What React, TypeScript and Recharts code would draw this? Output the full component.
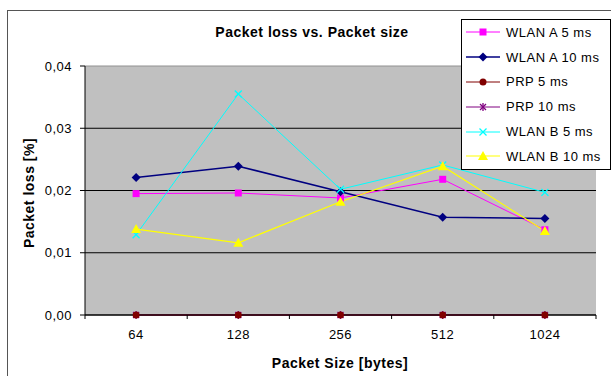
import React from "react";
import { LineChart, Line, XAxis, YAxis, CartesianGrid, Legend } from "recharts";

// packet sizes in bytes (x categories)
const SIZES = ["64", "128", "256", "512", "1024"];

// packet loss [%] per packet size
const WLAN_A_5 = [0.0195, 0.0196, 0.0188, 0.0218, 0.0137];
const WLAN_A_10 = [0.0221, 0.0239, 0.0198, 0.0157, 0.0155];
const PRP_5 = [0, 0, 0, 0, 0];
const PRP_10 = [0, 0, 0, 0, 0];
const WLAN_B_5 = [0.0129, 0.0355, 0.0202, 0.0241, 0.0197];
const WLAN_B_10 = [0.0138, 0.0116, 0.0182, 0.0239, 0.0135];

const Y_TICKS = [0, 0.01, 0.02, 0.03, 0.04];

type Shape = "square" | "diamond" | "circle" | "star" | "cross" | "triangle";

interface Series {
  key: string;
  name: string;
  values: number[];
  color: string;
  shape: Shape;
  width: number;
}

const SERIES: Series[] = [
  { key: "wlanA5", name: "WLAN A 5 ms", values: WLAN_A_5, color: "#FF00FF", shape: "square", width: 1 },
  { key: "wlanA10", name: "WLAN A 10 ms", values: WLAN_A_10, color: "#000080", shape: "diamond", width: 1.5 },
  { key: "prp5", name: "PRP 5 ms", values: PRP_5, color: "#800000", shape: "circle", width: 1 },
  { key: "prp10", name: "PRP 10 ms", values: PRP_10, color: "#800080", shape: "star", width: 1 },
  { key: "wlanB5", name: "WLAN B 5 ms", values: WLAN_B_5, color: "#00FFFF", shape: "cross", width: 1 },
  { key: "wlanB10", name: "WLAN B 10 ms", values: WLAN_B_10, color: "#FFFF00", shape: "triangle", width: 1.2 },
];

// PRP 10 ms goes underneath PRP 5 ms, the rest keep legend order
const DRAW_ORDER = ["prp10", "wlanA5", "wlanA10", "prp5", "wlanB5", "wlanB10"];

const chartData = SIZES.map((size, i) => {
  const row: Record<string, string | number> = { size };
  SERIES.forEach((s) => {
    row[s.key] = s.values[i];
  });
  return row;
});

const FONT = "'Liberation Sans', Arial, sans-serif";
const X_TICK_GAP = 15;

function Marker({ shape, cx, cy, color }: { shape: Shape; cx: number; cy: number; color: string }) {
  switch (shape) {
    case "square":
      return <rect x={cx - 3.5} y={cy - 3.5} width={7} height={7} fill={color} />;
    case "diamond":
      return (
        <polygon
          points={`${cx},${cy - 4.5} ${cx + 4.5},${cy} ${cx},${cy + 4.5} ${cx - 4.5},${cy}`}
          fill={color}
        />
      );
    case "circle":
      return <circle cx={cx} cy={cy} r={3.5} fill={color} />;
    case "star":
      return (
        <g stroke={color} strokeWidth={1.3}>
          <line x1={cx - 3} y1={cy - 3} x2={cx + 3} y2={cy + 3} />
          <line x1={cx + 3} y1={cy - 3} x2={cx - 3} y2={cy + 3} />
          <line x1={cx} y1={cy - 4} x2={cx} y2={cy + 4} />
        </g>
      );
    case "cross":
      return (
        <g stroke={color} strokeWidth={1.3}>
          <line x1={cx - 3.5} y1={cy - 3.5} x2={cx + 3.5} y2={cy + 3.5} />
          <line x1={cx + 3.5} y1={cy - 3.5} x2={cx - 3.5} y2={cy + 3.5} />
        </g>
      );
    case "triangle":
      return (
        <polygon
          points={`${cx},${cy - 5} ${cx + 5},${cy + 4} ${cx - 5},${cy + 4}`}
          fill={color}
        />
      );
  }
  return null;
}

// x tick: label at the band centre, tick marks on the band edges
function SizeTick(props: any) {
  const { x, y, payload, index, visibleTicksCount } = props;
  const half = Number(payload?.offset) || 0;
  const axisY = y - X_TICK_GAP;
  return (
    <g>
      <text x={x} y={y} dy="0.71em" textAnchor="middle" fontSize={13} fill="#000">
        {payload.value}
      </text>
      {half > 0 && <line x1={x - half} y1={axisY} x2={x - half} y2={axisY + 4} stroke="#000" />}
      {half > 0 && index === visibleTicksCount - 1 && (
        <line x1={x + half} y1={axisY} x2={x + half} y2={axisY + 4} stroke="#000" />
      )}
    </g>
  );
}

function LegendBox() {
  return (
    <div style={{ border: "1px solid #000", background: "#fff", width: 148, fontFamily: FONT }}>
      {SERIES.map((s) => (
        <div key={s.key} style={{ display: "flex", alignItems: "center", height: 24.8 }}>
          <svg width={40} height={12} style={{ marginLeft: 4, overflow: "visible" }}>
            <line x1={0} y1={6} x2={34} y2={6} stroke={s.color} strokeWidth={s.width} />
            <Marker shape={s.shape} cx={17} cy={6} color={s.color} />
          </svg>
          <span style={{ fontSize: 13, color: "#000", whiteSpace: "nowrap" }}>{s.name}</span>
        </div>
      ))}
    </div>
  );
}

const formatLoss = (v: number) => v.toFixed(2).replace(".", ",");

export default function App() {
  const drawn = DRAW_ORDER.map((k) => SERIES.find((s) => s.key === k)!);

  return (
    <div
      style={{
        position: "absolute",
        left: 0,
        top: 0,
        width: 611,
        height: 376,
        overflow: "hidden",
        background: "#fff",
        fontFamily: FONT,
        letterSpacing: "0.5px",
      }}
    >
      {/* chart frame, runs past the right and bottom edge */}
      <div
        style={{
          position: "absolute",
          left: 7,
          top: 10,
          width: 640,
          height: 400,
          border: "1px solid #555",
        }}
      />
      <div style={{ position: "absolute", left: 0, top: 0 }}>
        <LineChart width={611} height={376} data={chartData} margin={{ top: 66, right: 15, bottom: 31, left: 0 }}>
          <CartesianGrid
            xAxisId="cat"
            yAxisId="v"
            vertical={false}
            fill="#C0C0C0"
            fillOpacity={1}
            horizontal={(p: any) => (
              <line
                key={`h-${p.index}`}
                x1={p.x1}
                y1={p.y1}
                x2={p.x2}
                y2={p.y2}
                stroke={p.y1 === p.y ? "#909090" : "#000"}
                strokeWidth={1}
              />
            )}
          />
          <XAxis
            xAxisId="cat"
            dataKey="size"
            scale="band"
            height={30}
            tickSize={0}
            tickMargin={X_TICK_GAP}
            tickLine={false}
            axisLine={{ stroke: "#000" }}
            tick={<SizeTick />}
          />
          <YAxis
            yAxisId="v"
            width={85}
            domain={[0, 0.04]}
            ticks={Y_TICKS}
            tickFormatter={formatLoss}
            tickSize={5}
            tickMargin={8}
            tickLine={{ stroke: "#000" }}
            axisLine={{ stroke: "#000" }}
            tick={{ fill: "#000", fontSize: 13 }}
          />
          <YAxis
            yAxisId="frame"
            orientation="right"
            width={0}
            domain={[0, 0.04]}
            tick={false}
            tickLine={false}
            axisLine={{ stroke: "#909090" }}
          />
          {drawn.map((s) => (
            <Line
              key={s.key}
              xAxisId="cat"
              yAxisId="v"
              type="linear"
              dataKey={s.key}
              name={s.name}
              stroke={s.color}
              strokeWidth={s.width}
              dot={(p: any) => (
                <Marker key={`${s.key}-${p.index}`} shape={s.shape} cx={p.cx} cy={p.cy} color={s.color} />
              )}
              activeDot={false}
              isAnimationActive={false}
            />
          ))}
          <Legend
            layout="vertical"
            align="center"
            verticalAlign="middle"
            wrapperStyle={{ left: 461, top: 19, width: 150, height: 150 }}
            content={() => <LegendBox />}
          />
        </LineChart>
      </div>
      <svg
        width={611}
        height={376}
        style={{ position: "absolute", left: 0, top: 0, pointerEvents: "none" }}
      >
        <text x={312} y={37} textAnchor="middle" fontSize={14} fontWeight="bold" fill="#000">
          Packet loss vs. Packet size
        </text>
        <text x={340} y={368} textAnchor="middle" fontSize={14} fontWeight="bold" fill="#000">
          Packet Size [bytes]
        </text>
        <text
          x={34}
          y={193}
          textAnchor="middle"
          fontSize={14}
          fontWeight="bold"
          fill="#000"
          transform="rotate(-90, 34, 193)"
        >
          Packet loss [%]
        </text>
      </svg>
    </div>
  );
}
